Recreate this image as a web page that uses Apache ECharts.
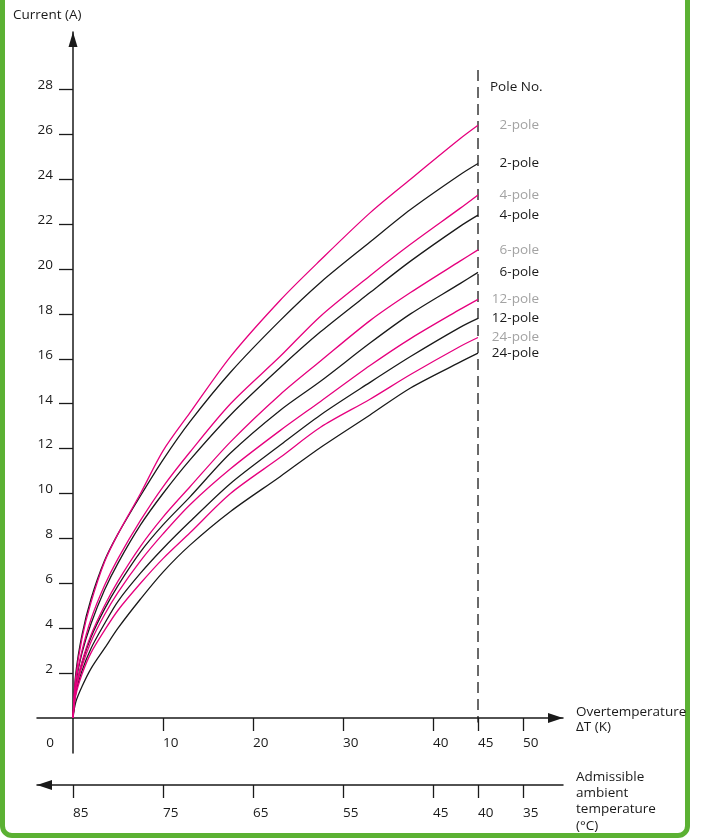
<!DOCTYPE html>
<html>
<head>
<meta charset="utf-8">
<title>Current vs overtemperature</title>
<script src="https://cdn.jsdelivr.net/npm/echarts@6/dist/echarts.min.js"></script>
<style>
  html, body { margin: 0; padding: 0; background: #fff; }
  #frame {
    position: absolute; left: 0; top: -20px; width: 690px; height: 858px;
    box-sizing: border-box; border: 5px solid #5bb133; border-radius: 12px;
  }
  #chart { position: absolute; left: 0; top: 0; width: 702px; height: 838px; }
</style>
</head>
<body>
<div id="frame"></div>
<div id="chart"></div>
<script>
// overtemperature (K) at which the curves were read
const deltaT = [0, 0.3, 1, 2, 3.5, 5, 7.5, 10, 13, 17.5, 23, 27.5, 33, 37.5, 43, 45]

// current (A) per pole number, magenta and black curve of each pair
const pink2   = [0, 1.8, 3.55, 5.15, 6.95, 8.2, 10.0, 11.9, 13.6, 16.1, 18.6, 20.4, 22.5, 24.0, 25.8, 26.4]
const black2  = [0, 1.95, 3.7, 5.3, 7.0, 8.2, 9.9, 11.5, 13.2, 15.4, 17.7, 19.4, 21.2, 22.65, 24.2, 24.7]
const pink4   = [0, 1.6, 3.0, 4.4, 5.9, 7.1, 8.8, 10.3, 11.85, 14.0, 16.1, 17.9, 19.7, 21.1, 22.7, 23.3]
const black4  = [0, 1.5, 2.9, 4.2, 5.7, 6.9, 8.6, 10.0, 11.5, 13.5, 15.6, 17.2, 18.95, 20.35, 21.9, 22.4]
const pink6   = [0, 1.3, 2.5, 3.7, 5.0, 6.1, 7.65, 8.95, 10.3, 12.3, 14.4, 15.9, 17.7, 18.95, 20.35, 20.85]
const black6  = [0, 1.25, 2.45, 3.6, 4.85, 5.9, 7.4, 8.6, 9.85, 11.8, 13.7, 15.0, 16.7, 18.0, 19.35, 19.85]
const pink12  = [0, 1.2, 2.3, 3.4, 4.6, 5.6, 7.0, 8.2, 9.5, 11.1, 12.8, 14.1, 15.7, 16.9, 18.2, 18.65]
const black12 = [0, 1.1, 2.1, 3.1, 4.2, 5.2, 6.45, 7.55, 8.75, 10.45, 12.15, 13.5, 14.95, 16.1, 17.4, 17.8]
const pink24  = [0, 1.0, 1.95, 2.9, 3.9, 4.8, 6.0, 7.1, 8.25, 10.0, 11.6, 12.95, 14.2, 15.3, 16.55, 16.95]
const black24 = [0, 0.7, 1.4, 2.2, 3.1, 4.0, 5.3, 6.5, 7.7, 9.2, 10.75, 12.05, 13.5, 14.7, 15.85, 16.25]

// axis ticks
const currentTicks = [2, 4, 6, 8, 10, 12, 14, 16, 18, 20, 22, 24, 26, 28]
const overTicks = [10, 20, 30, 40, 45, 50]
const ambientTickPos = [0, 10, 20, 30, 40, 45, 50]
const ambientLabels = [85, 75, 65, 55, 45, 40, 35]
const ratedDeltaT = 45

const FONT = 'Open Sans'
const FS = 13.5
const INK = '#1a1a1a'
const PINK = '#e6007e'
const GREY = '#a3a3a3'

const curves = [
  { name: '2-pole', values: black2, color: INK, labelColor: INK },
  { name: '4-pole', values: black4, color: INK, labelColor: INK },
  { name: '6-pole', values: black6, color: INK, labelColor: INK },
  { name: '12-pole', values: black12, color: INK, labelColor: INK },
  { name: '24-pole', values: black24, color: INK, labelColor: INK },
  { name: '2-pole', values: pink2, color: PINK, labelColor: GREY },
  { name: '4-pole', values: pink4, color: PINK, labelColor: GREY },
  { name: '6-pole', values: pink6, color: PINK, labelColor: GREY },
  { name: '12-pole', values: pink12, color: PINK, labelColor: GREY },
  { name: '24-pole', values: pink24, color: PINK, labelColor: GREY }
]

const chart = echarts.init(document.getElementById('chart'), null, { renderer: 'canvas' })

const axisLine = { color: INK, width: 1.5 }
const tickLine = { color: INK, width: 1.3 }
const textBase = { color: INK, fontFamily: FONT, fontSize: FS }

const option = {
  animation: false,
  backgroundColor: 'transparent',
  textStyle: { fontFamily: FONT },
  title: {
    text: 'Current (A)',
    left: 13,
    top: 8,
    padding: 0,
    textStyle: { ...textBase, fontWeight: 'normal' }
  },
  grid: {
    left: 37, right: 139, top: 32, bottom: 85,
    containLabel: false,
    outerBoundsMode: 'none'
  },
  xAxis: [
    {
      type: 'value',
      min: -4,
      max: 54.444,
      axisLine: {
        onZero: true,
        symbol: ['none', 'triangle'],
        symbolSize: [10, 15],
        symbolOffset: [0, -7.5],
        lineStyle: axisLine
      },
      axisTick: { show: true, customValues: overTicks, length: 13, lineStyle: tickLine },
      // labels are laid out from the grid edge, not from the zero line
      axisLabel: { customValues: overTicks, align: 'left', margin: -17, ...textBase },
      splitLine: { show: false },
      name: '{s| }\nOvertemperature\nΔT (K)',
      nameLocation: 'end',
      nameGap: 13,
      nameTextStyle: {
        ...textBase, align: 'left', verticalAlign: 'middle', lineHeight: 15,
        rich: { s: { lineHeight: 4, fontSize: 4 } }
      }
    },
    {
      type: 'value',
      min: -4,
      max: 54.444,
      position: 'bottom',
      offset: 32,
      axisLine: {
        onZero: false,
        symbol: ['triangle', 'none'],
        symbolSize: [10, 15],
        symbolOffset: [7.5, 0],
        lineStyle: axisLine
      },
      axisTick: { show: true, customValues: ambientTickPos, length: 13, lineStyle: tickLine },
      axisLabel: {
        customValues: ambientTickPos,
        formatter: v => String(ambientLabels[ambientTickPos.indexOf(v)]),
        align: 'left',
        margin: 21,
        ...textBase
      },
      splitLine: { show: false },
      name: '\n\nAdmissible\nambient\ntemperature\n(°C)',
      nameLocation: 'end',
      nameGap: 13,
      nameTextStyle: { ...textBase, align: 'left', verticalAlign: 'middle', lineHeight: 16.3 }
    }
  ],
  yAxis: {
    type: 'value',
    min: -1.559,
    max: 30.557,
    axisLine: {
      onZero: true,
      symbol: ['none', 'triangle'],
      symbolSize: [9, 15],
      symbolOffset: [0, -7.5],
      lineStyle: axisLine
    },
    axisTick: { show: true, customValues: currentTicks, length: 14, lineStyle: tickLine },
    axisLabel: {
      customValues: currentTicks,
      margin: -16,
      verticalAlign: 'bottom',
      lineHeight: 8,
      ...textBase
    },
    splitLine: { show: false }
  },
  series: [
    ...curves.map(c => ({
      type: 'line',
      name: c.name,
      data: deltaT.map((t, i) => [t, c.values[i]]),
      showSymbol: false,
      smooth: 0.3,
      silent: true,
      lineStyle: { color: c.color, width: 1.3 },
      itemStyle: { color: c.color },
      endLabel: {
        show: true,
        formatter: () => c.name,
        align: 'right',
        distance: 61,
        color: c.labelColor,
        fontFamily: FONT,
        fontSize: FS
      }
    })),
    {
      type: 'line',
      name: 'rated',
      data: [[ratedDeltaT, 28.86], [ratedDeltaT, -0.2]],
      showSymbol: false,
      silent: true,
      lineStyle: { color: INK, width: 1.3, type: [11, 6] },
      z: 1
    }
  ]
}

chart.setOption(option)

// the "0" of the overtemperature axis sits left of the current axis
const origin = chart.convertToPixel({ xAxisIndex: 0, yAxisIndex: 0 }, [0, 0])
const poleTop = chart.convertToPixel({ xAxisIndex: 0, yAxisIndex: 0 }, [ratedDeltaT, 28.2])
chart.setOption({
  graphic: [
    {
      type: 'text',
      x: origin[0] - 19,
      y: origin[1] + 25,
      style: { text: '0', font: FS + 'px "' + FONT + '"', fill: INK, align: 'right', verticalAlign: 'middle' }
    },
    {
      type: 'text',
      x: poleTop[0] + 12,
      y: 87,
      style: { text: 'Pole No.', font: FS + 'px "' + FONT + '"', fill: INK, align: 'left', verticalAlign: 'middle' }
    }
  ]
})
</script>
</body>
</html>
